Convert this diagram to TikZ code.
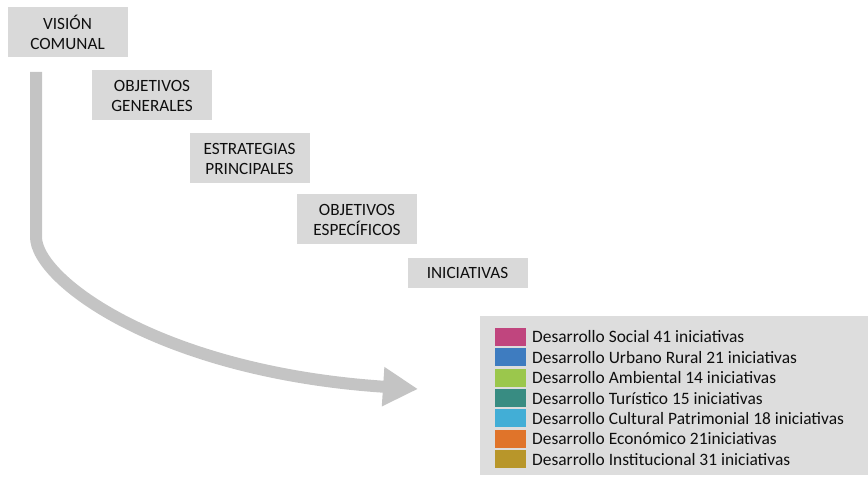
\documentclass[tikz,border=0pt]{standalone}
\usepackage{fontspec}
\setmainfont{Carlito}
\usepackage{xcolor}
\definecolor{boxgray}{RGB}{217,217,217}
\definecolor{arrowgray}{RGB}{196,196,196}
\definecolor{inktext}{RGB}{15,15,15}
\definecolor{dsocial}{RGB}{192,69,126}
\definecolor{durbano}{RGB}{62,124,192}
\definecolor{dambiental}{RGB}{155,199,76}
\definecolor{dturistico}{RGB}{56,140,130}
\definecolor{dcultural}{RGB}{66,174,214}
\definecolor{deconomico}{RGB}{224,116,42}
\definecolor{dinstitucional}{RGB}{184,150,42}
\usetikzlibrary{arrows.meta}

\begin{document}
\begin{tikzpicture}[x=1pt, y=-1pt,
  levelbox/.style={fill=boxgray, align=center, text=inktext, inner sep=0pt,
    minimum width=120, minimum height=50, font=\fontsize{17.2}{20}\selectfont},
  swatch/.style={fill=#1, minimum width=31, minimum height=18, inner sep=0pt},
  entrytext/.style={anchor=west, text=inktext, inner sep=0pt,
    font=\fontsize{17.4}{20}\selectfont},
  flowarrow/.style={draw=arrowgray, line width=12,
    -{Triangle[width=37pt, length=35pt]}}]
  \useasboundingbox (0,0) rectangle (868,478);

  % Niveles de planificacion (escalera)
  \node[levelbox] (vision) at (67.5, 32) {VISIÓN\\COMUNAL};
  \node[levelbox] (objgen) at (152, 95.5) {OBJETIVOS\\GENERALES};
  \node[levelbox] (estrat) at (249.5, 158.5) {ESTRATEGIAS\\PRINCIPALES};
  \node[levelbox] (objesp) at (357, 219.5) {OBJETIVOS\\ESPECÍFICOS};
  \node[levelbox, minimum height=30] (inic) at (467.5, 273) {INICIATIVAS};

  % Recuadro de areas de desarrollo
  \node[fill=boxgray!90!white, minimum width=388, minimum height=159, inner sep=0pt]
    (legend) at (674, 395.5) {};

  % Lista de areas con su color
  \foreach \col/\txt [count=\i] in {
      dsocial/Desarrollo Social 41 iniciativas,
      durbano/Desarrollo Urbano Rural 21 iniciativas,
      dambiental/Desarrollo Ambiental 14 iniciativas,
      dturistico/Desarrollo Turístico 15 iniciativas,
      dcultural/Desarrollo Cultural Patrimonial 18 iniciativas,
      deconomico/Desarrollo Económico 21iniciativas,
      dinstitucional/Desarrollo Institucional 31 iniciativas} {
    \node[swatch=\col] (sq\i) at (510.5, {337 + (\i-1)*20.35}) {};
    \node[entrytext] (lbl\i) at (532, {337 + (\i-1)*20.35}) {\txt};
  }

  % Flecha curva que baja desde la vision hasta las iniciativas
  \coordinate (arrowstart) at (36, 72);
  \coordinate (arrowbend) at (36, 237);
  \coordinate (arrowend) at (418, 389);
  \draw[flowarrow] (arrowstart) -- (arrowbend)
    .. controls (36, 280) and (160, 372) .. (arrowend);
\end{tikzpicture}
\end{document}
